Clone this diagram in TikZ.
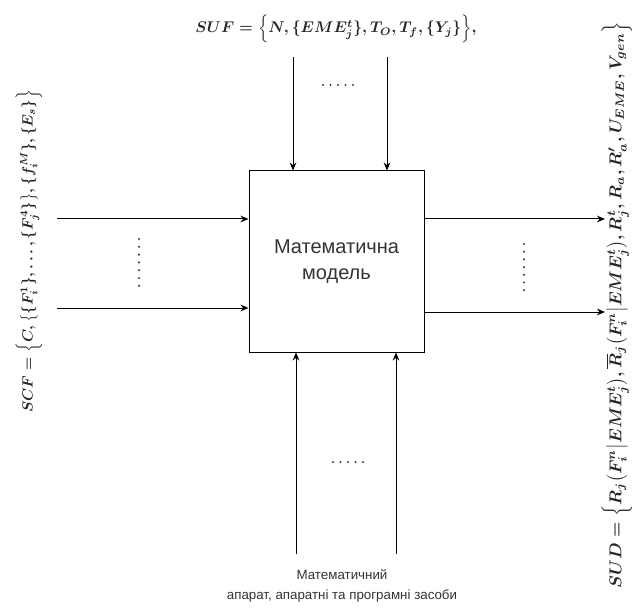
\documentclass[tikz,border=0pt]{standalone}
\usepackage{amsmath,amssymb}
\usepackage{fontspec}
\setmainfont{Liberation Sans}
\usetikzlibrary{arrows.meta,positioning}

\begin{document}
\begin{tikzpicture}[
    x=0.75pt, y=-0.75pt,
    line width=0.75pt,
    >={Stealth[length=6pt,width=5pt]},
    formula/.style={inner sep=0pt, text=black!85}
]
    \useasboundingbox (0,0) rectangle (640,610);
    % model block
    \node (mm) at (336.5,261.5) [draw, minimum width=131.25pt, minimum height=135.75pt,
        align=center, font=\fontsize{15}{20}\selectfont, text=black!80] {Математична\\модель};
    % free ends of the connectors
    \coordinate (t1) at (293,57);
    \coordinate (t2) at (387,57);
    \coordinate (l1) at (57,219);
    \coordinate (l2) at (57,308);
    \coordinate (r1) at (605,219);
    \coordinate (r2) at (605,312);
    \coordinate (b1) at (296,554);
    \coordinate (b2) at (396,554);
    \draw[->] (t1) -- (t1 |- mm.north);
    \draw[->] (t2) -- (t2 |- mm.north);
    \draw[->] (l1) -- (l1 -| mm.west);
    \draw[->] (l2) -- (l2 -| mm.west);
    \draw[->] (r1 -| mm.east) -- (r1);
    \draw[->] (r2 -| mm.east) -- (r2);
    \draw[->] (b1) -- (b1 |- mm.south);
    \draw[->] (b2) -- (b2 |- mm.south);
    % dots
    \foreach \i in {0,...,4} {
        \fill[black!75] (323+7.5*\i,85) circle (0.9pt);
        \fill[black!75] (333+7.5*\i,462) circle (0.9pt);
    }
    \foreach \i in {0,...,6} {
        \fill[black!75] (139,239+7.8*\i) circle (0.9pt);
        \fill[black!75] (524,244+7.7*\i) circle (0.9pt);
    }
    % labels
    \node (suf) at (336,29) [formula] {\resizebox{211pt}{!}{\boldmath$SUF=\Big\{N,\{EME_j^t\},T_O,T_f,\{Y_j\}\Big\},$}};
    \node (scf) at (29,251) [formula, rotate=90] {\resizebox{242pt}{!}{\boldmath$SCF=\Big\{C,\big\{\{F_i^1\},\ldots,\{F_j^4\}\big\},\{f_i^M\},\{E_s\}\Big\}$}};
    \node (sud) at (617,305) [formula, rotate=90] {\resizebox{425pt}{!}{\boldmath$SUD=\Big\{R_j\big(F_i^n\big|EME_j^t\big),\overline{R}_j\big(F_i^n\big|EME_j^t\big),R_j^t,R_a,R_a',U_{EME},V_{gen}\Big\}$}};
    \node (hw) at (342,586) [align=center, font=\fontsize{10}{15.5}\selectfont, text=black!80]
        {Математичний\\апарат, апаратні та програмні засоби};
\end{tikzpicture}
\end{document}
